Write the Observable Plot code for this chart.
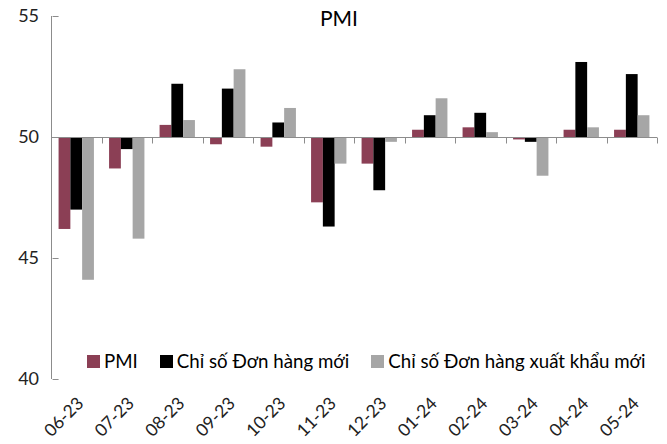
<!DOCTYPE html>
<html><head><meta charset="utf-8">
<script src="https://cdn.jsdelivr.net/npm/d3@7"></script>
<script src="https://cdn.jsdelivr.net/npm/@observablehq/plot@0.6"></script>
<style>
body{margin:0;background:#fff;font-family:Lato,"Noto Sans",sans-serif;}
#wrap{position:relative;width:667px;height:444px;overflow:hidden;}
#title{position:absolute;left:289px;top:5px;width:100px;text-align:center;font-size:21px;color:#000;}
#legend{position:absolute;left:87px;top:350px;display:flex;align-items:center;font-size:18.7px;color:#000;white-space:nowrap;}
#legend .item{display:flex;align-items:center;margin-right:22px;}
#legend .sw{width:13px;height:13px;margin-right:4px;}
</style>
</head><body>
<div id="wrap"><div id="chart"></div><div id="title">PMI</div><div id="legend"></div></div>
<script>
const months = ["06-23","07-23","08-23","09-23","10-23","11-23","12-23","01-24","02-24","03-24","04-24","05-24"];
const pmi = [46.2, 48.7, 50.5, 49.7, 49.6, 47.3, 48.9, 50.3, 50.4, 49.9, 50.3, 50.3];
const newOrders = [47.0, 49.5, 52.2, 52.0, 50.6, 46.3, 47.8, 50.9, 51.0, 49.8, 53.1, 52.6];
const exportOrders = [44.1, 45.8, 50.7, 52.8, 51.2, 48.9, 49.8, 51.6, 50.2, 48.4, 50.4, 50.9];
const seriesNames = ["PMI", "Chỉ số Đơn hàng mới", "Chỉ số Đơn hàng xuất khẩu mới"];
const seriesColors = ["#8b3f55", "#000000", "#a6a6a6"];
const yTicks = [40, 45, 50, 55];
const baseline = 50;

const seriesValues = [pmi, newOrders, exportOrders];
const table = months.flatMap((m, i) => seriesNames.map((s, j) => ({month: m, series: s, value: seriesValues[j][i]})));

const axisGray = "#8c8c8c";
const plot = Plot.plot({
  width: 667, height: 444,
  marginLeft: 51, marginRight: 10, marginTop: 16, marginBottom: 65,
  style: {fontFamily: "Lato, 'Noto Sans', sans-serif", background: "white"},
  fx: {domain: months, paddingInner: 0.3, paddingOuter: 0.15, round: false, label: null},
  x: {domain: seriesNames, padding: 0, round: false, axis: null},
  y: {domain: [40, 55], label: null},
  color: {domain: seriesNames, range: seriesColors},
  marks: [
    Plot.barY(table, {fx: "month", x: "series", y1: baseline, y2: "value", fill: "series"}),
    Plot.axisY({ticks: yTicks, tickSize: 6, tickPadding: 14, fontSize: 18, stroke: axisGray, fill: "#222", label: null}),
    Plot.axisFx({anchor: "bottom", tickRotate: -45, tickSize: 0, tickPadding: 21, dx: 4, fontSize: 17.5, fill: "#222", label: null})
  ]
});
document.getElementById("chart").appendChild(plot);

// axis lines drawn from the library's scales
const fx = plot.scale("fx"), sy = plot.scale("y");
const step = fx.step ?? ((fx.range[1] - fx.range[0]) / months.length);
const bw = fx.bandwidth ?? step * 0.7;
const x0 = fx.range[0], x1 = fx.range[1];
const yb = Math.round(sy.apply(baseline)) + 0.5;
const g = d3.select(plot).append("g").attr("stroke", axisGray).attr("stroke-width", 1).attr("fill", "none");
const xl = Math.round(x0) + 0.5;
g.append("line").attr("x1", xl).attr("x2", xl).attr("y1", sy.apply(55)).attr("y2", sy.apply(40));
g.append("line").attr("x1", x0).attr("x2", x1).attr("y1", yb).attr("y2", yb);
const bounds = months.map(m => fx.apply(m) - (step - bw) / 2);
bounds.push(bounds[bounds.length - 1] + step);
bounds.forEach(b => {
  const xb = Math.round(b) + 0.5;
  g.append("line").attr("x1", xb).attr("x2", xb).attr("y1", yb).attr("y2", yb + 6);
});

const leg = document.getElementById("legend");
seriesNames.forEach((s, i) => {
  const it = document.createElement("div"); it.className = "item";
  const sw = document.createElement("div"); sw.className = "sw"; sw.style.background = seriesColors[i];
  const t = document.createElement("span"); t.textContent = s;
  it.appendChild(sw); it.appendChild(t); leg.appendChild(it);
});
</script>
</body></html>
